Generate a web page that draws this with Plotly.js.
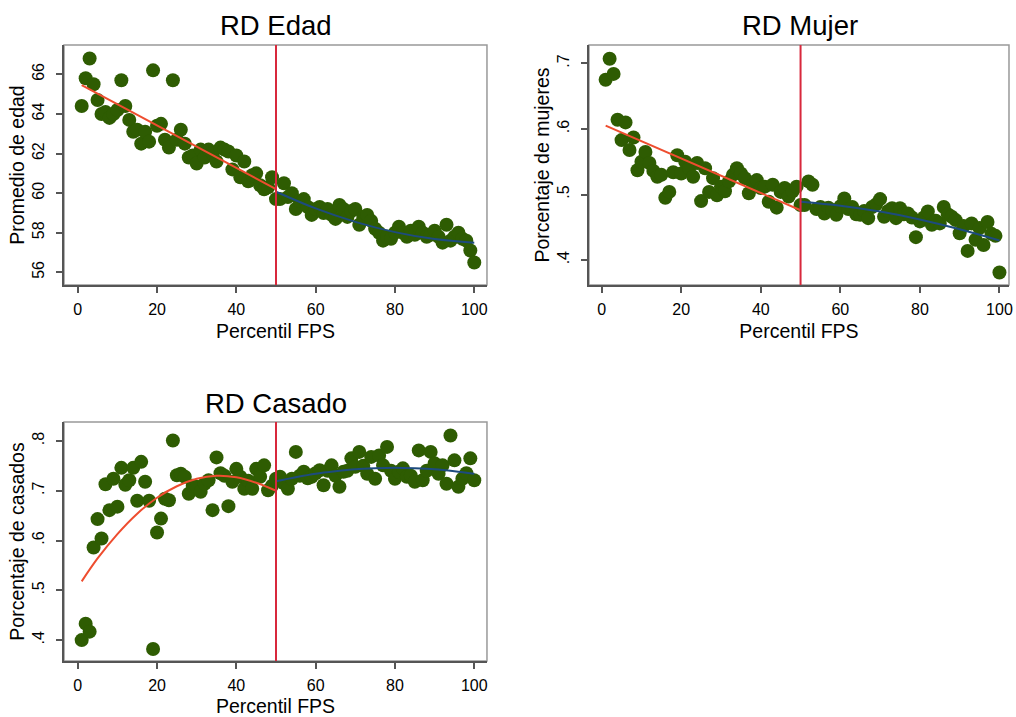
<!DOCTYPE html>
<html>
<head>
<meta charset="utf-8">
<script src="https://cdn.plot.ly/plotly-3.0.1.min.js"></script>
<style>html,body{margin:0;padding:0;background:#fff;}</style>
</head>
<body>
<div id="chart" style="width:1016px;height:717px;"></div>
<script>
// ---------- data ----------
const percentil = [1,2,3,4,5,6,7,8,9,10,11,12,13,14,15,16,17,18,19,20,
  21,22,23,24,25,26,27,28,29,30,31,32,33,34,35,36,37,38,39,40,
  41,42,43,44,45,46,47,48,49,50,51,52,53,54,55,56,57,58,59,60,
  61,62,63,64,65,66,67,68,69,70,71,72,73,74,75,76,77,78,79,80,
  81,82,83,84,85,86,87,88,89,90,91,92,93,94,95,96,97,98,99,100];

const edad = [64.4,65.8,66.8,65.5,64.7,64.0,64.1,63.8,64.0,64.2,
  65.7,64.4,63.7,63.1,63.2,62.5,63.1,62.6,66.2,63.4,
  63.5,62.7,62.3,65.7,62.7,63.2,62.5,61.8,61.9,61.5,
  62.2,61.8,62.2,62.0,61.6,62.3,62.2,62.1,61.2,61.9,
  60.8,61.6,60.6,60.9,61.0,60.4,60.2,60.3,60.8,59.7,
  59.7,60.5,59.8,60.0,59.2,59.6,59.7,59.3,58.9,59.2,
  59.3,59.0,59.2,58.9,58.7,59.4,59.2,58.8,59.1,59.2,
  58.4,58.8,58.9,58.6,58.2,58.0,57.6,57.8,57.7,58.0,
  58.3,58.0,57.8,58.1,57.9,58.3,58.0,57.8,57.9,58.1,
  57.8,57.5,58.4,57.6,57.8,58.0,57.7,57.6,57.1,56.5];

const mujer = [0.675,0.707,0.684,0.614,0.583,0.610,0.568,0.587,0.537,0.550,
  0.565,0.548,0.536,0.527,0.530,0.495,0.504,0.534,0.560,0.532,
  0.550,0.540,0.527,0.548,0.490,0.540,0.504,0.525,0.499,0.512,
  0.505,0.520,0.530,0.540,0.532,0.525,0.502,0.515,0.522,0.510,
  0.512,0.489,0.515,0.480,0.504,0.510,0.497,0.505,0.512,0.484,
  0.484,0.520,0.515,0.478,0.481,0.471,0.480,0.476,0.469,0.482,
  0.494,0.478,0.481,0.470,0.469,0.475,0.464,0.481,0.485,0.493,
  0.466,0.475,0.479,0.464,0.479,0.470,0.471,0.465,0.435,0.459,
  0.465,0.474,0.454,0.460,0.456,0.481,0.470,0.466,0.461,0.441,
  0.452,0.414,0.456,0.431,0.449,0.423,0.458,0.440,0.437,0.381];

const casado = [0.400,0.433,0.417,0.586,0.643,0.604,0.713,0.661,0.724,0.668,
  0.746,0.712,0.721,0.746,0.680,0.758,0.718,0.680,0.382,0.616,
  0.644,0.684,0.681,0.801,0.731,0.734,0.728,0.694,0.710,0.708,
  0.698,0.714,0.721,0.661,0.767,0.735,0.730,0.669,0.718,0.744,
  0.728,0.704,0.720,0.704,0.744,0.728,0.751,0.701,0.710,0.724,
  0.728,0.715,0.704,0.724,0.778,0.730,0.738,0.725,0.728,0.735,
  0.741,0.711,0.740,0.751,0.730,0.708,0.738,0.740,0.765,0.748,
  0.778,0.750,0.734,0.768,0.724,0.771,0.751,0.788,0.740,0.724,
  0.738,0.745,0.728,0.730,0.718,0.781,0.721,0.740,0.778,0.755,
  0.734,0.751,0.714,0.811,0.761,0.708,0.724,0.735,0.765,0.721];

// fitted lines
const fitEdadIzqX = [1, 50];
const fitEdadIzqY = [65.46, 60.2];
const fitEdadDerX = [50, 60, 70, 80, 90, 100];
const fitEdadDerY = [60.07, 59.23, 58.55, 58.03, 57.68, 57.5];

const fitMujerIzqX = [1, 50];
const fitMujerIzqY = [0.605, 0.476];
const fitMujerDerX = [50, 60, 70, 80, 90, 100];
const fitMujerDerY = [0.489, 0.483, 0.474, 0.462, 0.447, 0.430];

const fitCasadoIzqX = [1, 5, 10, 15, 20, 25, 30, 35, 40, 45, 50];
const fitCasadoIzqY = [0.518, 0.564, 0.613, 0.654, 0.686, 0.709, 0.724, 0.730, 0.727, 0.716, 0.700];
const fitCasadoDerX = [50, 55, 60, 65, 70, 75, 80, 85, 90, 95, 100];
const fitCasadoDerY = [0.719, 0.727, 0.734, 0.739, 0.743, 0.745, 0.746, 0.745, 0.743, 0.739, 0.734];

const corte = 50;
const xTicks = [0, 20, 40, 60, 80, 100];
const edadTicks = [56, 58, 60, 62, 64, 66];
const mujerTicks = [0.4, 0.5, 0.6, 0.7];
const mujerTickText = ['.4', '.5', '.6', '.7'];
const casadoTicks = [0.4, 0.5, 0.6, 0.7, 0.8];
const casadoTickText = ['.4', '.5', '.6', '.7', '.8'];

const titulos = ['RD Edad', 'RD Mujer', 'RD Casado'];
const yTitulos = ['Promedio de edad', 'Porcentaje de mujeres', 'Porcentaje de casados'];
const xTitulo = 'Percentil FPS';

// ---------- styles ----------
const FONT = '"Liberation Sans", Arial, Helvetica, sans-serif';
const GREEN = '#2e5c02';
const RED = '#ee4d2f';
const BLUE = '#1d4b7e';
const VRED = '#d8283c';

function puntos(y, xa, ya) {
  return {x: percentil, y: y, xaxis: xa, yaxis: ya, type: 'scatter', mode: 'markers',
    marker: {color: GREEN, size: 14, line: {width: 0}}, hoverinfo: 'x+y', showlegend: false};
}
function linea(x, y, xa, ya, color, spline) {
  return {x: x, y: y, xaxis: xa, yaxis: ya, type: 'scatter', mode: 'lines',
    line: {color: color, width: 2, shape: spline ? 'spline' : 'linear'}, showlegend: false};
}

const traces = [
  puntos(edad, 'x', 'y'),
  linea(fitEdadIzqX, fitEdadIzqY, 'x', 'y', RED, false),
  linea(fitEdadDerX, fitEdadDerY, 'x', 'y', BLUE, true),
  puntos(mujer, 'x2', 'y2'),
  linea(fitMujerIzqX, fitMujerIzqY, 'x2', 'y2', RED, false),
  linea(fitMujerDerX, fitMujerDerY, 'x2', 'y2', BLUE, true),
  puntos(casado, 'x3', 'y3'),
  linea(fitCasadoIzqX, fitCasadoIzqY, 'x3', 'y3', RED, true),
  linea(fitCasadoDerX, fitCasadoDerY, 'x3', 'y3', BLUE, true)
];

function xAxis(domain, range, anchor) {
  return {domain: domain, range: range, anchor: anchor, tickvals: xTicks,
    showgrid: false, zeroline: false, showline: true, linecolor: '#555', linewidth: 1.5,
    ticks: 'outside', ticklen: 6, tickwidth: 1.5, tickcolor: '#555', ticklabelstandoff: 3,
    tickfont: {family: FONT, size: 16, color: '#000'},
    title: {text: xTitulo, font: {family: FONT, size: 19.5, color: '#000'}, standoff: 7}};
}
function yAxis(domain, range, anchor, vals, text, title) {
  const a = {domain: domain, range: range, anchor: anchor, tickvals: vals,
    showgrid: false, zeroline: false, showline: true, linecolor: '#555', linewidth: 1.5,
    ticks: 'outside', ticklen: 6, tickwidth: 1.5, tickcolor: '#555', tickangle: -90,
    ticklabelstandoff: 6,
    tickfont: {family: FONT, size: 16, color: '#000'},
    title: {text: title, font: {family: FONT, size: 19.5, color: '#000'}, standoff: 0}};
  if (text) a.ticktext = text;
  return a;
}

const dx1 = [0.063, 0.4793], dx2 = [0.5797, 0.9931];
const dyTop = [0.6025, 0.9372], dyBot = [0.0781, 0.4114];

function marco(xr, yr) {
  return {type: 'rect', xref: xr + ' domain', yref: yr + ' domain', x0: 0, x1: 1, y0: 0, y1: 1,
    line: {color: '#999', width: 1.5}, layer: 'below'};
}
function vcorte(xr, yr) {
  return {type: 'line', xref: xr, yref: yr + ' domain', x0: corte, x1: corte, y0: 0, y1: 1,
    line: {color: VRED, width: 2}};
}

const layout = {
  width: 1016, height: 717,
  margin: {l: 0, r: 0, t: 0, b: 0},
  paper_bgcolor: '#fff', plot_bgcolor: '#fff',
  font: {family: FONT, color: '#000'},
  showlegend: false,
  xaxis: xAxis(dx1, [-3.46, 103.2], 'y'),
  yaxis: yAxis(dyTop, [55.36, 67.48], 'x', edadTicks, null, yTitulos[0]),
  xaxis2: xAxis(dx2, [-3.19, 102.4], 'y2'),
  yaxis2: yAxis(dyTop, [0.362, 0.728], 'x2', mujerTicks, mujerTickText, yTitulos[1]),
  xaxis3: xAxis(dx1, [-3.46, 103.2], 'y3'),
  yaxis3: yAxis(dyBot, [0.358, 0.838], 'x3', casadoTicks, casadoTickText, yTitulos[2]),
  shapes: [marco('x', 'y'), marco('x2', 'y2'), marco('x3', 'y3'),
    vcorte('x', 'y'), vcorte('x2', 'y2'), vcorte('x3', 'y3')],
  annotations: [
    {text: titulos[0], xref: 'paper', yref: 'paper', x: 0.2717, y: 0.964, showarrow: false,
      xanchor: 'center', yanchor: 'middle', font: {family: FONT, size: 27.5, color: '#000'}},
    {text: titulos[1], xref: 'paper', yref: 'paper', x: 0.7874, y: 0.964, showarrow: false,
      xanchor: 'center', yanchor: 'middle', font: {family: FONT, size: 27.5, color: '#000'}},
    {text: titulos[2], xref: 'paper', yref: 'paper', x: 0.2717, y: 0.4379, showarrow: false,
      xanchor: 'center', yanchor: 'middle', font: {family: FONT, size: 27.5, color: '#000'}}
  ]
};

Plotly.newPlot('chart', traces, layout, {displayModeBar: false, responsive: false, staticPlot: false});
</script>
</body>
</html>
